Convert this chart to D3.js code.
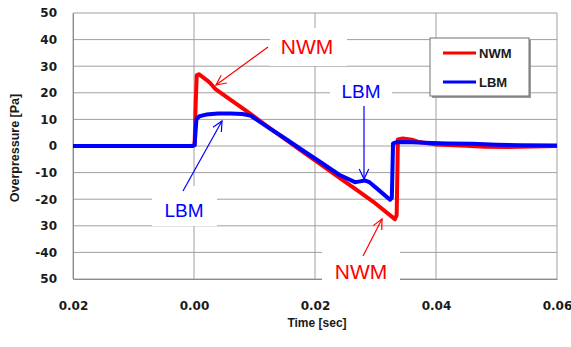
<!DOCTYPE html>
<html>
<head>
<meta charset="utf-8">
<script src="https://cdn.jsdelivr.net/npm/d3@7"></script>
<style>
  body { margin: 0; background: #fff; }
  svg { display: block; }
</style>
</head>
<body>
<script>
// time in ms, overpressure in Pa
const timeNWM = [-20, -10, -0.3, 0.1, 0.25, 0.45, 0.8, 1.4, 2.1, 2.7, 3.5, 6, 9, 12, 15, 18, 21, 24, 27, 30, 33.2, 33.5, 33.7, 34.5, 36, 37, 40, 45, 48, 52, 56, 60]
const valueNWM = [0, 0, 0.1, 0.4, 14, 26.6, 27, 26, 24.8, 23.6, 21.5, 17.4, 12.6, 7.6, 2.7, -2.2, -7.0, -11.9, -16.7, -21.6, -27.5, -26, 2.5, 2.8, 2.4, 1.6, 0.6, 0.1, -0.3, -0.4, -0.2, 0]

const timeLBM = [-20, -10, -0.2, 0.1, 0.4, 0.9, 2, 4, 6, 8, 9.3, 12, 15, 18, 21, 24, 26.6, 27.2, 28.3, 29, 30.5, 32.4, 32.7, 32.9, 33.5, 35, 38, 42, 46, 50, 54, 60]
const valueLBM = [0, 0, 0, 0.3, 10, 11.2, 11.8, 12.2, 12.2, 12.0, 11.5, 7.4, 2.9, -1.7, -6.2, -10.8, -13.6, -13.4, -13.0, -13.6, -16.5, -20.2, -19.5, 1.0, 1.4, 1.5, 1.2, 0.9, 0.8, 0.5, 0.3, 0.2]

const xTicks = [-0.02, 0, 0.02, 0.04, 0.06]
const xTickLabels = ['0.02', '0.00', '0.02', '0.04', '0.06']
const yTicks = [50, 40, 30, 20, 10, 0, -10, -20, -30, -40, -50]
const yTickLabels = ['50', '40', '30', '20', '10', '0', '-10', '-20', '30', '-40', '50']

const W = 571, H = 347
const margin = {top: 13, right: 14, bottom: 68, left: 73}
const width = W - margin.left - margin.right
const height = H - margin.top - margin.bottom

const svg = d3.select('body').append('svg')
  .attr('width', W)
  .attr('height', H)

const g = svg.append('g')
  .attr('transform', 'translate(' + margin.left + ',' + margin.top + ')')

const x = d3.scaleLinear().domain([-0.02, 0.06]).range([0, width])
const y = d3.scaleLinear().domain([-50, 50]).range([height, 0])

const font = '"Liberation Sans", Arial, sans-serif'

// grid
g.append('g')
  .selectAll('line')
  .data(yTicks)
  .join('line')
  .attr('x1', 0).attr('x2', width)
  .attr('y1', d => y(d)).attr('y2', d => y(d))
  .attr('stroke', '#a0a0a0').attr('stroke-width', 1)

g.append('g')
  .selectAll('line')
  .data(xTicks)
  .join('line')
  .attr('x1', d => x(d)).attr('x2', d => x(d))
  .attr('y1', 0).attr('y2', height)
  .attr('stroke', '#a0a0a0').attr('stroke-width', 1)

// axes
const xAxis = g.append('g')
  .attr('transform', 'translate(0,' + height + ')')
  .call(d3.axisBottom(x).tickValues(xTicks).tickSize(0).tickPadding(22)
    .tickFormat((d, i) => xTickLabels[i]))
const yAxis = g.append('g')
  .call(d3.axisLeft(y).tickValues(yTicks).tickSize(0).tickPadding(16)
    .tickFormat((d, i) => yTickLabels[i]))

;[xAxis, yAxis].forEach(a => {
  a.select('.domain').attr('stroke', '#8c8c8c')
  a.selectAll('text')
    .attr('font-family', '"DejaVu Sans", sans-serif')
    .attr('font-weight', 'bold')
    .attr('font-size', 12)
    .attr('fill', '#1a1a1a')
})

// axis titles
svg.append('text')
  .attr('x', 317).attr('y', 327)
  .attr('text-anchor', 'middle')
  .attr('font-family', font).attr('font-weight', 'bold').attr('font-size', 12)
  .attr('fill', '#1a1a1a')
  .text('Time [sec]')

svg.append('text')
  .attr('transform', 'translate(19,148) rotate(-90)')
  .attr('text-anchor', 'middle')
  .attr('font-family', font).attr('font-weight', 'bold').attr('font-size', 12.5)
  .attr('fill', '#1a1a1a')
  .text('Overpressure [Pa]')

// series
const line = d3.line()
  .x(d => x(d[0] / 1000))
  .y(d => y(d[1]))

g.append('path')
  .datum(timeNWM.map((t, i) => [t, valueNWM[i]]))
  .attr('fill', 'none')
  .attr('stroke', '#ff0000')
  .attr('stroke-width', 4)
  .attr('stroke-linejoin', 'round')
  .attr('d', line)

g.append('path')
  .datum(timeLBM.map((t, i) => [t, valueLBM[i]]))
  .attr('fill', 'none')
  .attr('stroke', '#0000ff')
  .attr('stroke-width', 4)
  .attr('stroke-linejoin', 'round')
  .attr('d', line)

// annotations: white label boxes, text and arrows
function arrow(x1, y1, x2, y2, color) {
  const a = Math.atan2(y2 - y1, x2 - x1)
  const len = 11, spread = 0.45
  const p1 = [x2 - len * Math.cos(a - spread), y2 - len * Math.sin(a - spread)]
  const p2 = [x2 - len * Math.cos(a + spread), y2 - len * Math.sin(a + spread)]
  svg.append('line')
    .attr('x1', x1).attr('y1', y1).attr('x2', x2).attr('y2', y2)
    .attr('stroke', color).attr('stroke-width', 1.2)
  svg.append('path')
    .attr('d', 'M' + p1 + 'L' + [x2, y2] + 'L' + p2)
    .attr('fill', 'none').attr('stroke', color).attr('stroke-width', 1.2)
}

function label(cx, baseline, txt, color, size, box) {
  svg.append('rect')
    .attr('x', box[0]).attr('y', box[1]).attr('width', box[2]).attr('height', box[3])
    .attr('fill', '#fff')
  svg.append('text')
    .attr('x', cx).attr('y', baseline)
    .attr('text-anchor', 'middle')
    .attr('font-family', font).attr('font-size', size)
    .attr('fill', color)
    .text(txt)
}

label(307, 54, 'NWM', '#ff0000', 21, [270, 28, 77, 38])
label(361, 98, 'LBM', '#0000ff', 19, [330, 76, 62, 30])
label(184, 217, 'LBM', '#0000ff', 19, [152, 186, 65, 40])
label(361, 279, 'NWM', '#ff0000', 21, [322, 250, 78, 36])

arrow(268, 47, 216, 85, '#ff0000')
arrow(364, 106, 364, 179, '#0000ff')
arrow(183, 191, 222, 121, '#0000ff')
arrow(363, 256, 382, 219, '#ff0000')

// legend
const lg = svg.append('g').attr('transform', 'translate(430,38)')
lg.append('rect')
  .attr('x', 2).attr('y', 2).attr('width', 99).attr('height', 58)
  .attr('fill', '#9a9a9a')
lg.append('rect')
  .attr('x', 0).attr('y', 0).attr('width', 99).attr('height', 58)
  .attr('fill', '#fff').attr('stroke', '#6e6e6e').attr('stroke-width', 1)

const legendItems = [['NWM', '#ff0000'], ['LBM', '#0000ff']]
legendItems.forEach((d, i) => {
  const yy = 15 + i * 29
  lg.append('line')
    .attr('x1', 13).attr('x2', 46).attr('y1', yy).attr('y2', yy)
    .attr('stroke', d[1]).attr('stroke-width', 3)
  lg.append('text')
    .attr('x', 49).attr('y', yy + 5)
    .attr('font-family', font).attr('font-weight', 'bold').attr('font-size', 13)
    .attr('fill', '#1a1a1a')
    .text(d[0])
})
</script>
</body>
</html>
